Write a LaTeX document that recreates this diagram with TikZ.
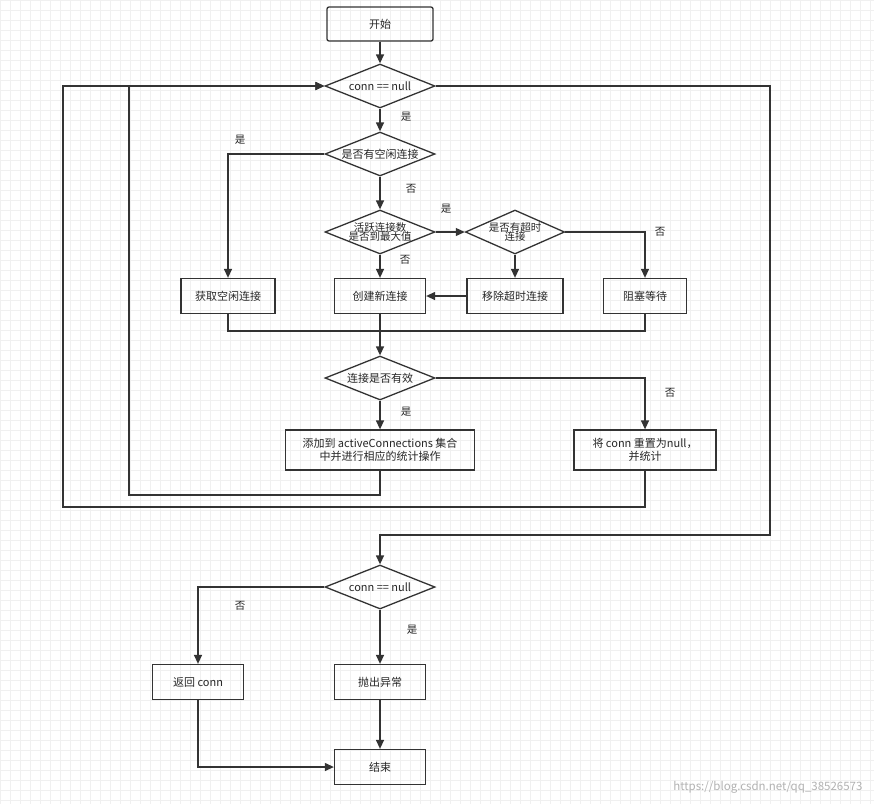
\documentclass[tikz,border=0pt]{standalone}
\usepackage{fontspec}
\setmainfont{Noto Sans CJK SC}
\usetikzlibrary{shapes.geometric,arrows.meta}
\begin{document}
\begin{tikzpicture}[x=1pt,y=-1pt,
  every node/.style={font=\fontsize{11}{13}\selectfont, text=black!85},
  box/.style={draw=black!80, line width=1.3pt, minimum height=35pt, inner sep=2pt, align=center},
  dia/.style={draw=black!80, line width=1.3pt, diamond, aspect=2.5, minimum width=110pt, minimum height=44pt, inner sep=0pt, align=center},
  ar/.style={draw=black!80, line width=1.3pt, -{Triangle[length=9pt,width=8pt]}},
  ln/.style={draw=black!80, line width=1.3pt},
  lab/.style={font=\fontsize{10.5}{12}\selectfont}]
\useasboundingbox (0,0) rectangle (874,804);
\fill[white] (0,0) rectangle (874,804);
\draw[black!6, line width=0.5pt] (0,0) grid[step=10pt] (874,804);
\node[box, rounded corners=2pt, minimum width=106pt, minimum height=34pt] (start) at (380,24) {开始};
\node[dia] (d1) at (380,86) {conn == null};
\node[dia] (d2) at (380,154) {是否有空闲连接};
\node[dia, font=\fontsize{10.5}{11}\selectfont] (d3) at (380,232) {活跃连接数\\[-2pt]是否到最大值};
\node[dia, minimum width=84pt, font=\fontsize{10.5}{11}\selectfont] (d4) at (515,232) {是否有超时\\[-2pt]连接};
\node[box, minimum width=94pt] (b1) at (228,296) {获取空闲连接};
\node[box, minimum width=91pt] (b2) at (380,296) {创建新连接};
\node[box, minimum width=96pt] (b3) at (515,296) {移除超时连接};
\node[box, minimum width=83pt] (b4) at (645,296) {阻塞等待};
\node[dia] (d5) at (380,378) {连接是否有效};
\node[box, minimum width=189pt, minimum height=40pt] (b5) at (380,450) {添加到 activeConnections 集合\\中并进行相应的统计操作};
\node[box, minimum width=142pt, minimum height=40pt] (b6) at (645,450) {将 conn 重置为null，\\并统计};
\node[dia] (d6) at (380,587) {conn == null};
\node[box, minimum width=91pt] (b7) at (198,682) {返回 conn};
\node[box, minimum width=91pt] (b8) at (380,682) {抛出异常};
\node[box, minimum width=91pt] (end) at (380,767) {结束};
\coordinate (j) at (380,331);
\draw[ar] (start) -- (d1);
\draw[ar] (d1) -- (d2);
\draw[ar] (d2.west) -| (b1);
\draw[ar] (d2) -- (d3);
\draw[ar] (d3) -- (b2);
\draw[ar] (d3) -- (d4);
\draw[ar] (d4) -- (b3);
\draw[ar] (d4.east) -| (b4);
\draw[ar] (b3) -- (b2);
\draw[ln] (b1.south) |- (j) -| (b4.south);
\draw[ln] (b2) -- (j);
\draw[ar] (j) -- (d5);
\draw[ar] (d5) -- (b5);
\draw[ar] (d5.east) -| (b6);
\draw[ar] (b5.south) -- (380,495) -- (129,495) -- (129,86) -- (d1.west);
\draw[ar] (b6.south) -- (645,507) -- (63,507) -- (63,86) -- (d1.west);
\draw[ar] (d1.east) -- (770,86) -- (770,535) -- (380,535) -- (d6);
\draw[ar] (d6.west) -| (b7);
\draw[ar] (d6) -- (b8);
\draw[ar] (b8) -- (end);
\draw[ar] (b7.south) |- (end.west);
\node[lab] (l1) at (406,117) {是};
\node[lab] (l2) at (240,140) {是};
\node[lab] (l3) at (411,189) {否};
\node[lab] (l4) at (446,209) {是};
\node[lab] (l5) at (660,232) {否};
\node[lab] (l6) at (405,260) {否};
\node[lab] (l7) at (406,412) {是};
\node[lab] (l8) at (670,393) {否};
\node[lab] (l9) at (240,606) {否};
\node[lab] (l10) at (412,630) {是};
\node[font=\fontsize{11.5}{13}\selectfont, text=black!30, anchor=east] (wm) at (866,787) {https://blog.csdn.net/qq\_38526573};
\end{tikzpicture}
\end{document}
